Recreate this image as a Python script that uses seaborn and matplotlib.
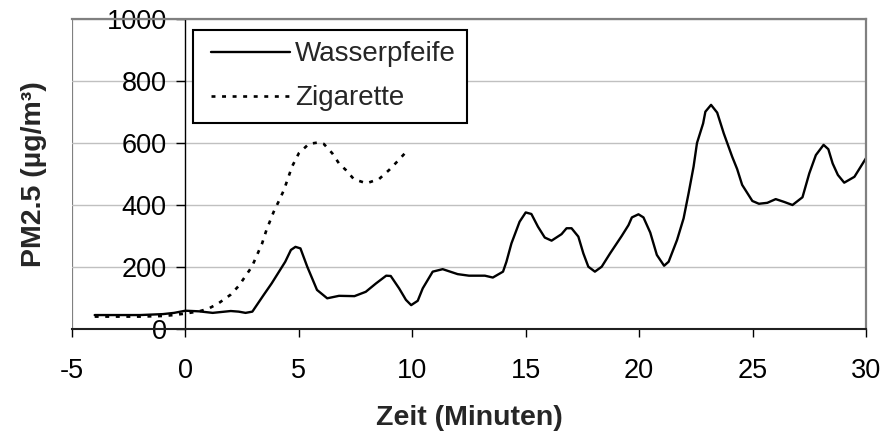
import matplotlib
matplotlib.use("Agg")
import matplotlib.pyplot as plt
from matplotlib.lines import Line2D
from matplotlib.legend_handler import HandlerLine2D
import seaborn as sns

# ---- data ----
wasser_x = [-4, -3, -2, -1, -0.5, 0, 0.6, 1.2, 2.0, 2.35, 2.65, 2.95, 3.45, 3.8,
            4.4, 4.65, 4.85, 5.07, 5.37, 5.8, 6.25, 6.77, 7.45, 7.95, 8.4, 8.85,
            9.05, 9.42, 9.72, 9.95, 10.24, 10.46, 10.9, 11.34, 12.0, 12.5, 13.2,
            13.55, 14.0, 14.15, 14.37, 14.73, 15.0, 15.25, 15.54, 15.84, 16.14,
            16.58, 16.8, 17.02, 17.32, 17.54, 17.76, 18.05, 18.35, 18.72, 19.23,
            19.53, 19.68, 19.97, 20.19, 20.49, 20.78, 21.1, 21.3, 21.67, 21.96,
            22.18, 22.4, 22.55, 22.82, 22.92, 23.17, 23.44, 23.73, 24.1, 24.32,
            24.54, 24.99, 25.28, 25.65, 26.02, 26.39, 26.76, 27.2, 27.5, 27.79,
            28.13, 28.34, 28.53, 28.76, 29.04, 29.49, 30.0]
wasser_y = [45, 45, 45, 48, 52, 59, 57, 52, 58, 56, 52, 56, 110, 147,
            217, 255, 265, 260, 201, 126, 99, 107, 106, 120, 147, 172,
            171, 131, 94, 77, 91, 131, 185, 193, 177, 172, 172,
            166, 185, 217, 276, 346, 376, 371, 330, 295, 285,
            306, 325, 325, 298, 244, 201, 185, 201, 244, 300,
            335, 360, 370, 360, 311, 239, 204, 217, 287, 357,
            438, 524, 600, 663, 701, 723, 698, 631, 556, 516,
            465, 413, 404, 407, 419, 410, 400, 425, 502, 561,
            594, 580, 534, 497, 472, 491, 551]

zig_x = [-4, -3, -2, -1, -0.5, 0, 0.6, 1.0, 1.46, 1.98, 2.35, 2.93, 3.38, 3.57,
         3.89, 4.12, 4.34, 4.7, 5.0, 5.44, 5.88, 6.1, 6.47, 6.77, 7.07, 7.43,
         7.98, 8.54, 8.98, 9.4, 9.8]
zig_y = [40, 40, 40, 42, 45, 50, 57, 65, 83, 110, 139, 201, 276, 319,
         378, 413, 448, 524, 567, 597, 602, 597, 567, 534, 513, 483,
         470, 484, 513, 545, 577]

series_labels = ["Wasserpfeife", "Zigarette"]
x_ticks = [-5, 0, 5, 10, 15, 20, 25, 30]
y_ticks = [0, 200, 400, 600, 800, 1000]
x_label = "Zeit (Minuten)"
y_label = "PM2.5 (µg/m³)"

# ---- style ----
sns.set_theme(style="white")
plt.rcParams["font.family"] = ["Liberation Sans", "DejaVu Sans"]

fig = plt.figure(figsize=(8.83, 4.34), dpi=100)
W, H = 883, 434
left_px, right_px, top_px, bot_px = 72, 866, 19, 329
ax = fig.add_axes([left_px / W, 1 - bot_px / H,
                   (right_px - left_px) / W, (bot_px - top_px) / H])

sns.lineplot(x=wasser_x, y=wasser_y, ax=ax, color="black", linewidth=1.7,
             estimator=None, sort=False, label=series_labels[0])
sns.lineplot(x=zig_x, y=zig_y, ax=ax, color="black", linewidth=1.9,
             estimator=None, sort=False, label=series_labels[1],
             linestyle=(0, (1.5, 2.5)))

ax.set_xlim(-5, 30)
ax.set_ylim(0, 1000)
ax.set_xticks(x_ticks)
ax.set_yticks(y_ticks)
ax.set_xticklabels([str(v) for v in x_ticks])
ax.set_yticklabels([str(v) for v in y_ticks])

# grid
ax.yaxis.grid(True, color="#c0c0c0", linewidth=1.0)
ax.xaxis.grid(False)
ax.set_axisbelow(True)

# spines
ax.spines["left"].set_position(("data", 0))
ax.spines["left"].set_color("black")
ax.spines["left"].set_linewidth(1.0)
ax.spines["bottom"].set_color("#202020")
ax.spines["bottom"].set_linewidth(1.5)
for s in ("top", "right"):
    ax.spines[s].set_color("#808080")
    ax.spines[s].set_linewidth(1.6)
ax.axvline(-5, color="#808080", linewidth=1.6, zorder=0.5)

ax.tick_params(axis="y", direction="out", length=6.5, width=1.0, pad=7,
               labelsize=19.5, colors="black", left=True)
ax.tick_params(axis="x", direction="out", length=6, width=1.0, pad=15,
               labelsize=19.5, colors="black", bottom=True)

ax.set_xlabel(x_label, fontsize=20.5, fontweight="bold", labelpad=15)
ax.set_ylabel(y_label, fontsize=20.5, fontweight="bold")
ax.yaxis.set_label_coords(-0.032, 0.5)

leg = ax.legend(loc="upper left",
                bbox_to_anchor=((193 - left_px) / (right_px - left_px),
                                (bot_px - 30) / (bot_px - top_px)),
                borderaxespad=0, fontsize=20, frameon=True, fancybox=False,
                edgecolor="black", framealpha=1, handlelength=3.08,
                handletextpad=0.18, labelspacing=0.65, borderpad=0.41,
                handler_map={Line2D: HandlerLine2D(xpad=0.24)})
leg.get_frame().set_linewidth(1.5)

fig.savefig("out.png", dpi=100)
